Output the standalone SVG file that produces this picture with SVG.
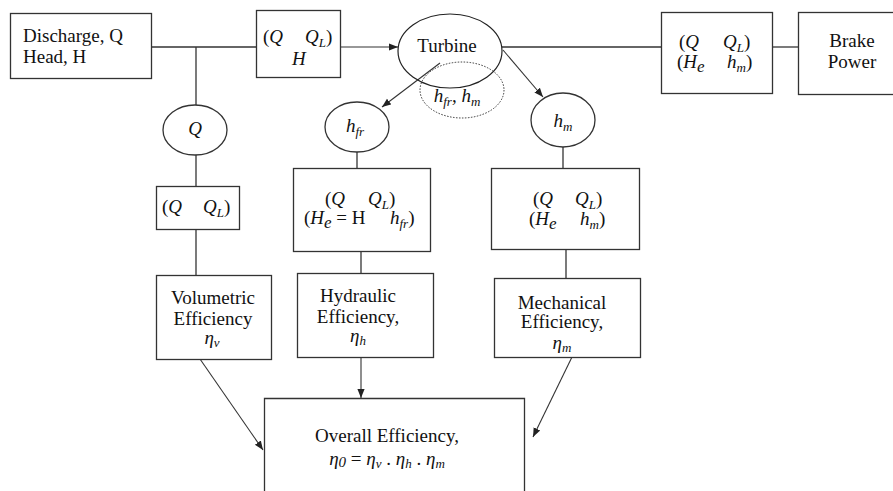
<svg xmlns="http://www.w3.org/2000/svg" width="893" height="491" viewBox="0 0 893 491">
<style>
text{font-family:"Liberation Serif","Times New Roman",serif;font-size:19px;fill:#111}
.i{font-style:italic}
.n{font-style:normal}
.c{text-anchor:middle}
.s{font-size:13px}
.box{fill:#fff;stroke:#333;stroke-width:1.3}
.ell{fill:none;stroke:#222;stroke-width:1.2}
.dot{fill:none;stroke:#333;stroke-width:1;stroke-dasharray:1.5 1.5}
.ln{stroke:#333;stroke-width:1.3;fill:none}
.ar{stroke:#333;stroke-width:1.1;fill:none;marker-end:url(#ah)}
</style>
<defs>
<marker id="ah" viewBox="0 0 10 10" refX="10" refY="5" markerWidth="9" markerHeight="9" markerUnits="userSpaceOnUse" orient="auto">
<path d="M0,1 L10,5 L0,9 Z" fill="#222"/>
</marker>
</defs>
<g id="connectors">
<line class="ln" x1="151" y1="47" x2="256" y2="47"/>
<line class="ln" x1="196" y1="47" x2="196" y2="105"/>
<line class="ar" x1="340" y1="47" x2="398" y2="47"/>
<line class="ln" x1="502" y1="47" x2="661" y2="47"/>
<line class="ln" x1="772" y1="47" x2="798" y2="47"/>
<line class="ar" x1="440" y1="63" x2="382" y2="107"/>
<line class="ar" x1="503" y1="50" x2="543" y2="97"/>
<line class="ln" x1="196" y1="155" x2="196" y2="186"/>
<line class="ln" x1="196" y1="229" x2="196" y2="275"/>
<line class="ln" x1="357" y1="152" x2="357" y2="168"/>
<line class="ln" x1="361" y1="251" x2="361" y2="273"/>
<line class="ln" x1="563" y1="147" x2="563" y2="168"/>
<line class="ln" x1="566" y1="249" x2="566" y2="278"/>
<line class="ar" x1="200" y1="359" x2="263" y2="450"/>
<line class="ar" x1="361" y1="357" x2="361" y2="398"/>
<line class="ar" x1="572" y1="357" x2="533" y2="437"/>
</g>
<g id="source">
<rect class="box" x="10.5" y="13.5" width="141" height="65"/>
<text x="23" y="42">Discharge, Q</text>
<text x="23" y="63">Head, H</text>
</g>
<g id="flow-in">
<rect class="box" x="256.5" y="10.5" width="84" height="67"/>
<text class="i" x="263" y="43"><tspan class="n">(</tspan>Q</text>
<text class="i" x="305" y="43">Q<tspan class="s" dy="4">L</tspan><tspan class="n" dy="-4">)</tspan></text>
<text class="i" x="292" y="65">H</text>
</g>
<g id="turbine">
<ellipse class="ell" cx="450" cy="51" rx="52" ry="37"/>
<text class="c" x="447" y="52">Turbine</text>
</g>
<g id="losses">
<ellipse class="dot" cx="462" cy="90" rx="42" ry="28"/>
<text class="i c" x="457" y="102">h<tspan class="s" dy="4">fr</tspan><tspan dy="-4">, h</tspan><tspan class="s" dy="4">m</tspan></text>
</g>
<g id="flow-out">
<rect class="box" x="661.5" y="12.5" width="111" height="81"/>
<text class="i" x="679" y="48"><tspan class="n">(</tspan>Q</text>
<text class="i" x="723" y="48">Q<tspan class="s" dy="4">L</tspan><tspan class="n" dy="-4">)</tspan></text>
<text class="i" x="677" y="68"><tspan class="n">(</tspan>H<tspan dy="4" style="font-size:17px">e</tspan></text>
<text class="i" x="727" y="68">h<tspan class="s" dy="4">m</tspan><tspan class="n" dy="-4">)</tspan></text>
</g>
<g id="brake-power">
<rect class="box" x="798.5" y="12.5" width="100" height="82"/>
<text class="c" x="852" y="47">Brake</text>
<text class="c" x="852" y="68">Power</text>
</g>
<g id="q-loss">
<ellipse class="box" cx="195" cy="130" rx="32" ry="25"/>
<text class="i c" x="195" y="135">Q</text>
</g>
<g id="q-box">
<rect class="box" x="156.5" y="186.5" width="83" height="43"/>
<text class="i" x="162" y="213"><tspan class="n">(</tspan>Q</text>
<text class="i" x="203" y="213">Q<tspan class="s" dy="4">L</tspan><tspan class="n" dy="-4">)</tspan></text>
</g>
<g id="hfr-loss">
<ellipse class="box" cx="357" cy="127" rx="32" ry="25"/>
<text class="i c" x="355" y="132">h<tspan class="s" dy="4">fr</tspan></text>
</g>
<g id="hfr-box">
<rect class="box" x="293.5" y="168.5" width="137" height="83"/>
<text class="i" x="325" y="205"><tspan class="n">(</tspan>Q</text>
<text class="i" x="368" y="205">Q<tspan class="s" dy="4">L</tspan><tspan class="n" dy="-4">)</tspan></text>
<text class="i" x="304" y="224"><tspan class="n">(</tspan>H<tspan dy="4" style="font-size:17px">e</tspan><tspan class="n" dy="-4"> = H</tspan></text>
<text class="i" x="390" y="224">h<tspan class="s" dy="4">fr</tspan><tspan class="n" dy="-4">)</tspan></text>
</g>
<g id="hm-loss">
<ellipse class="box" cx="563" cy="120" rx="32" ry="27"/>
<text class="i c" x="563" y="127">h<tspan class="s" dy="4">m</tspan></text>
</g>
<g id="hm-box">
<rect class="box" x="491.5" y="168.5" width="148" height="81"/>
<text class="i" x="533" y="205"><tspan class="n">(</tspan>Q</text>
<text class="i" x="575" y="205">Q<tspan class="s" dy="4">L</tspan><tspan class="n" dy="-4">)</tspan></text>
<text class="i" x="529" y="225"><tspan class="n">(</tspan>H<tspan dy="4" style="font-size:17px">e</tspan></text>
<text class="i" x="580" y="225">h<tspan class="s" dy="4">m</tspan><tspan class="n" dy="-4">)</tspan></text>
</g>
<g id="volumetric">
<rect class="box" x="156.5" y="275.5" width="115" height="84"/>
<text class="c" x="213" y="304">Volumetric</text>
<text class="c" x="213" y="325">Efficiency</text>
<text class="i c" x="212" y="344">η<tspan class="s" dy="3">ν</tspan></text>
</g>
<g id="hydraulic">
<rect class="box" x="297.5" y="273.5" width="136" height="84"/>
<text class="c" x="358" y="302">Hydraulic</text>
<text class="c" x="358" y="323">Efficiency,</text>
<text class="i c" x="358" y="342">η<tspan class="s" dy="3">h</tspan></text>
</g>
<g id="mechanical">
<rect class="box" x="494.5" y="278.5" width="146" height="79"/>
<text class="c" x="562" y="309">Mechanical</text>
<text class="c" x="562" y="328">Efficiency,</text>
<text class="i c" x="562" y="349">η<tspan class="s" dy="3">m</tspan></text>
</g>
<g id="overall">
<path class="ln" d="M264.5,491 V398.5 H524.5 V491"/>
<text class="c" x="387" y="442">Overall Efficiency,</text>
<text class="i c" x="387" y="465">η<tspan style="font-size:15px" dy="2">0</tspan><tspan class="n" dy="-2"> = </tspan>η<tspan class="s" dy="3">ν</tspan><tspan class="n" dy="-3"> . </tspan>η<tspan class="s" dy="3">h</tspan><tspan class="n" dy="-3"> . </tspan>η<tspan class="s" dy="3">m</tspan></text>
</g>
</svg>
